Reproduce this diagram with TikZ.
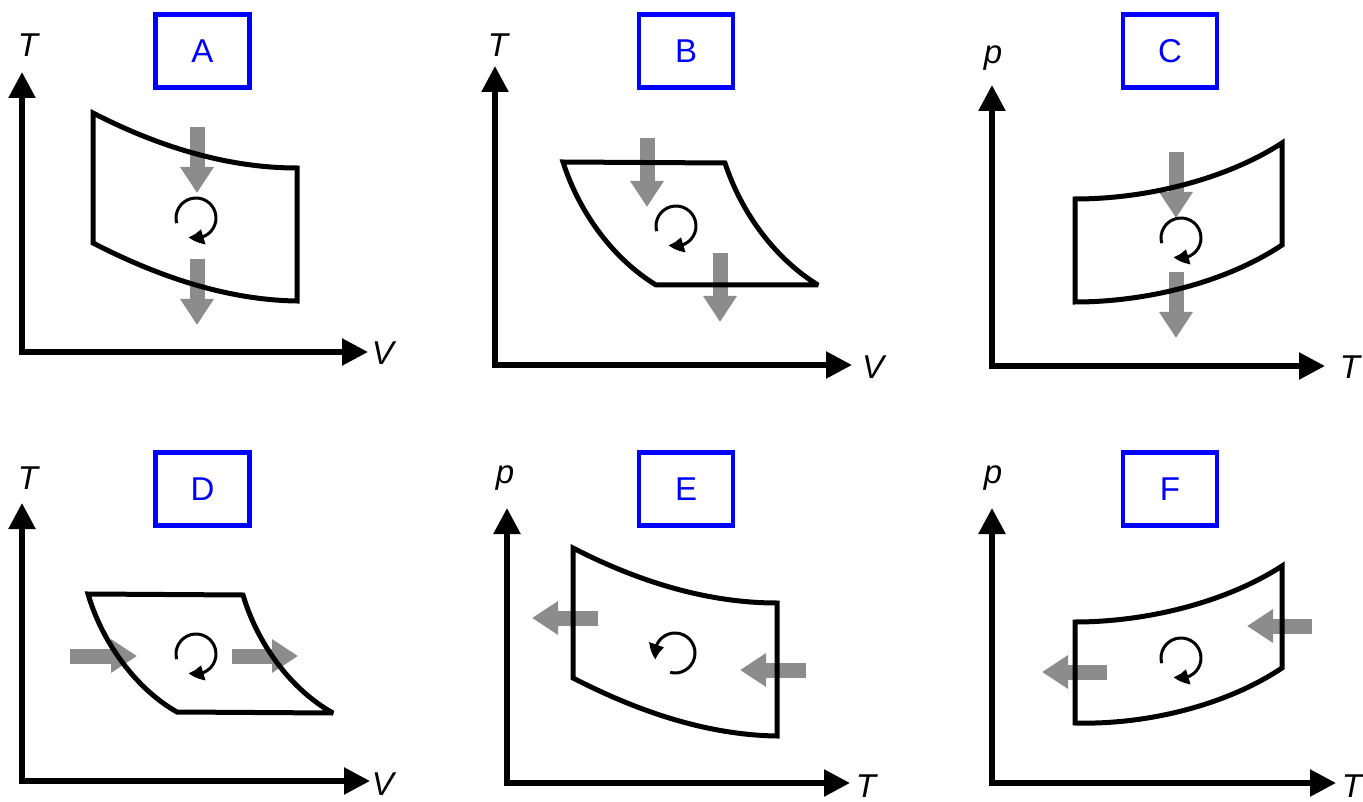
\documentclass[tikz,border=0pt]{standalone}
\usepackage{fontspec}
\setmainfont{Liberation Sans}
\usetikzlibrary{arrows.meta,bending}
\definecolor{heatgray}{RGB}{140,140,140}
\definecolor{boxblue}{RGB}{0,0,255}
\begin{document}
\begin{tikzpicture}[x=1pt,y=-1pt,
  axis/.style={line width=5.5pt, line join=miter, {Triangle[length=26pt,width=26pt]}-{Triangle[length=26pt,width=26pt]}},
  cyc/.style={line width=5pt, line join=miter, miter limit=2.5},
  heat/.style={draw=heatgray, line width=15pt, -{Triangle[length=26pt,width=32pt]}},
  rot/.style={line width=3pt, -{Triangle[length=15pt,width=15pt,bend]}},
  lab/.style={font=\fontsize{33}{38}\selectfont\itshape, inner sep=0pt},
  tag/.style={draw=boxblue, line width=4.5pt, text=boxblue, minimum width=94pt, minimum height=73pt, font=\fontsize{33}{38}\selectfont, inner sep=0pt}
]
\useasboundingbox (0,0) rectangle (1363,802);

% ---------------- Panel A ----------------
\draw[axis] (22,72) -- (22,352) -- (368,352);
\node[lab] (A-y) at (28,45) {T};
\node[lab] (A-x) at (383,353) {V};
\node[tag] (A-tag) at (202.5,51) {A};
\draw[heat] (197,127) -- (197,193);
\draw[heat] (197,259) -- (197,325);
\draw[cyc] (93,113) .. controls (155,145) and (225,168) .. (297,168) -- (297,301)
  .. controls (225,300) and (155,275) .. (93,243) -- cycle;
\draw[rot] (196,218) ++(165:20) arc[start angle=165, end angle=472, radius=20];

% ---------------- Panel B ----------------
\draw[axis] (495,66) -- (495,365) -- (852,365);
\node[lab] (B-y) at (498,45) {T};
\node[lab] (B-x) at (873,367) {V};
\node[tag] (B-tag) at (686,51) {B};
\draw[heat] (647,138) -- (647,207);
\draw[heat] (720,253) -- (720,322);
\draw[cyc] (563,162) -- (725,163) .. controls (742,215) and (777,260) .. (818,285)
  -- (656,285) .. controls (615,260) and (580,215) .. (563,162) -- cycle;
\draw[rot] (676,226) ++(165:20) arc[start angle=165, end angle=472, radius=20];

% ---------------- Panel C ----------------
\draw[axis] (992,85) -- (992,366) -- (1325,366);
\node[lab] (C-y) at (993,58) {p};
\node[lab] (C-x) at (1350,367) {T};
\node[tag] (C-tag) at (1170,51) {C};
\draw[heat] (1176,152) -- (1176,218);
\draw[heat] (1176,272) -- (1176,338);
\draw[cyc] (1075,199) .. controls (1145,199) and (1225,180) .. (1282,143) -- (1282,245)
  .. controls (1225,283) and (1145,302) .. (1075,302) -- cycle;
\draw[rot] (1181,238) ++(165:20) arc[start angle=165, end angle=472, radius=20];

% ---------------- Panel D ----------------
\draw[axis] (22,503) -- (22,781) -- (370,781);
\node[lab] (D-y) at (28,478) {T};
\node[lab] (D-x) at (383,784) {V};
\node[tag] (D-tag) at (202.5,489) {D};
\draw[heat] (70,656) -- (137,656);
\draw[heat] (232,656) -- (298,656);
\draw[cyc] (88,594) -- (243,595) .. controls (258,646) and (293,691) .. (333,713)
  -- (177,712) .. controls (138,690) and (103,645) .. (88,594) -- cycle;
\draw[rot] (196,654) ++(165:20) arc[start angle=165, end angle=472, radius=20];

% ---------------- Panel E ----------------
\draw[axis] (507,508) -- (507,783) -- (850,783);
\node[lab] (E-y) at (505,478) {p};
\node[lab] (E-x) at (866,786) {T};
\node[tag] (E-tag) at (686,489) {E};
\draw[heat] (598,618) -- (532,618);
\draw[heat] (806,670) -- (740,670);
\begin{scope}[shift={(480,435)}]
\draw[cyc] (93,113) .. controls (155,145) and (225,168) .. (297,168) -- (297,301)
  .. controls (225,300) and (155,275) .. (93,243) -- cycle;
\end{scope}
\draw[rot] (675,653) ++(104:20) arc[start angle=104, end angle=-199, radius=20];

% ---------------- Panel F ----------------
\draw[axis] (992,508) -- (992,783) -- (1336,783);
\node[lab] (F-y) at (993,478) {p};
\node[lab] (F-x) at (1352,786) {T};
\node[tag] (F-tag) at (1170,489) {F};
\draw[heat] (1312,626) -- (1247,626);
\draw[heat] (1107,672) -- (1042,672);
\begin{scope}[shift={(0,423)}]
\draw[cyc] (1075,199) .. controls (1145,199) and (1225,180) .. (1282,143) -- (1282,245)
  .. controls (1225,283) and (1145,302) .. (1075,300) -- cycle;
\end{scope}
\draw[rot] (1181,658) ++(165:20) arc[start angle=165, end angle=472, radius=20];
\end{tikzpicture}
\end{document}
